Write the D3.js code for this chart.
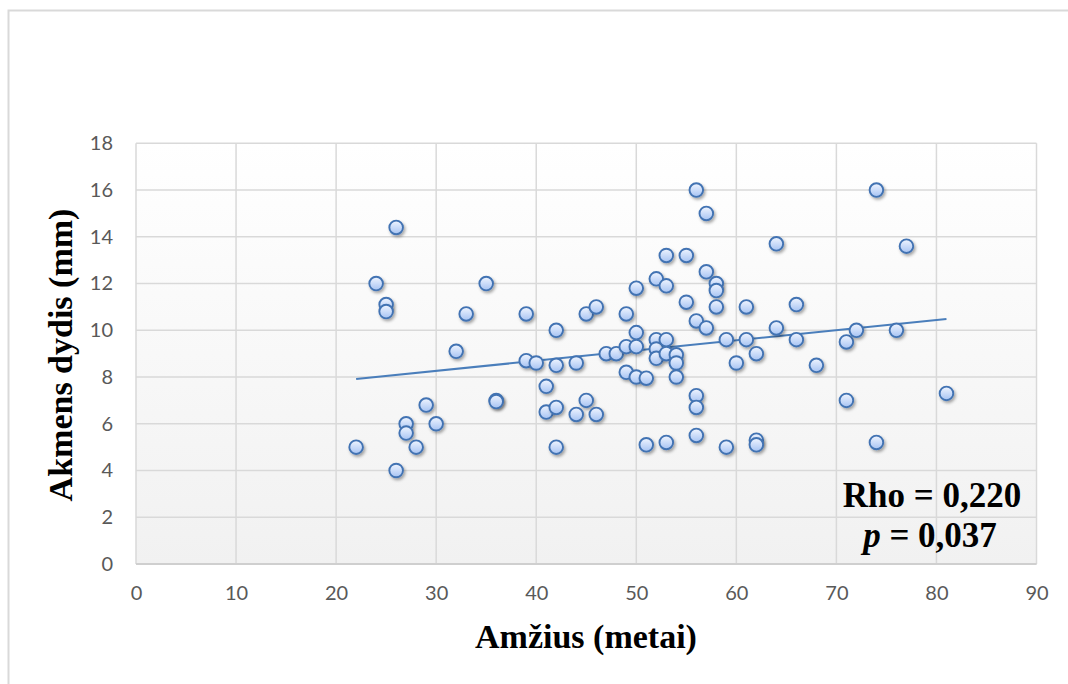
<!DOCTYPE html>
<html>
<head>
<meta charset="utf-8">
<script src="https://cdn.jsdelivr.net/npm/d3@7"></script>
<style>
  body { margin: 0; background: #ffffff; }
  svg { display: block; }
</style>
</head>
<body>
<svg id="chart" width="1068" height="684"></svg>
<script>
// Patient age (years) and stone size (mm)
const ages = [22, 24, 25, 25, 26, 26, 27, 27, 28, 29, 30, 32, 33, 35, 36, 36,
  39, 39, 40, 41, 41, 42, 42, 42, 42, 44, 44, 45, 45, 46, 46, 47, 48,
  49, 49, 49, 50, 50, 50, 50, 51, 51, 52, 52, 52, 52, 53, 53, 53, 53, 53,
  54, 54, 54, 55, 55, 56, 56, 56, 56, 56, 57, 57, 57, 58, 58, 58, 59, 59,
  60, 61, 61, 62, 62, 62, 64, 64, 66, 66, 68, 71, 71, 72, 74, 74, 76, 77, 81];
const sizes = [5.0, 12.0, 11.1, 10.8, 14.4, 4.0, 6.0, 5.6, 5.0, 6.8, 6.0, 9.1, 10.7, 12.0, 7.0, 6.95,
  10.7, 8.7, 8.6, 7.6, 6.5, 10.0, 8.5, 6.7, 5.0, 8.6, 6.4, 10.7, 7.0, 11.0, 6.4, 9.0, 9.0,
  10.7, 9.3, 8.2, 11.8, 9.9, 9.3, 8.0, 7.95, 5.1, 12.2, 9.6, 9.2, 8.8, 13.2, 11.9, 9.6, 9.0, 5.2,
  8.95, 8.6, 8.0, 13.2, 11.2, 16.0, 10.4, 7.2, 6.7, 5.5, 15.0, 12.5, 10.1, 12.0, 11.7, 11.0, 9.6, 5.0,
  8.6, 11.0, 9.6, 9.0, 5.3, 5.1, 13.7, 10.1, 11.1, 9.6, 8.5, 9.5, 7.0, 10.0, 16.0, 5.2, 10.0, 13.6, 7.3];

const xTicks = [0, 10, 20, 30, 40, 50, 60, 70, 80, 90];
const yTicks = [0, 2, 4, 6, 8, 10, 12, 14, 16, 18];
const xTitle = "Amžius (metai)";
const yTitle = "Akmens dydis (mm)";
const statRho = "Rho = 0,220";
const statP = "0,037";

const svg = d3.select("#chart");
const plot = { left: 136, right: 1036.5, top: 143.3, bottom: 564 };

const x = d3.scaleLinear().domain([0, 90]).range([plot.left, plot.right]);
const y = d3.scaleLinear().domain([0, 18]).range([plot.bottom, plot.top]);

const defs = svg.append("defs");
const bg = defs.append("linearGradient").attr("id", "plotBg")
  .attr("x1", 0).attr("y1", 0).attr("x2", 0).attr("y2", 1);
bg.append("stop").attr("offset", "0%").attr("stop-color", "#ffffff");
bg.append("stop").attr("offset", "100%").attr("stop-color", "#f1f1f1");

const mk = defs.append("linearGradient").attr("id", "markerFill")
  .attr("x1", 0).attr("y1", 0).attr("x2", 0).attr("y2", 1);
mk.append("stop").attr("offset", "0%").attr("stop-color", "#f0f5ff");
mk.append("stop").attr("offset", "100%").attr("stop-color", "#a6c3f3");

const sh = defs.append("filter").attr("id", "markerShadow")
  .attr("x", "-50%").attr("y", "-50%").attr("width", "200%").attr("height", "200%");
sh.append("feDropShadow").attr("dx", 1.5).attr("dy", 2).attr("stdDeviation", 1.4)
  .attr("flood-color", "#000").attr("flood-opacity", 0.35);

// Outer chart frame
svg.append("rect").attr("x", 8.5).attr("y", 10.5).attr("width", 1200).attr("height", 800)
  .attr("fill", "#ffffff").attr("stroke", "#d9d9d9").attr("stroke-width", 2);

// Plot area
svg.append("rect")
  .attr("x", plot.left).attr("y", plot.top)
  .attr("width", plot.right - plot.left).attr("height", plot.bottom - plot.top)
  .attr("fill", "url(#plotBg)");

// Gridlines
const grid = svg.append("g").attr("stroke", "#d9d9d9").attr("stroke-width", 1.5);
grid.selectAll("line.h").data(yTicks).join("line").attr("class", "h")
  .attr("x1", plot.left).attr("x2", plot.right)
  .attr("y1", d => y(d)).attr("y2", d => y(d));
grid.selectAll("line.v").data(xTicks).join("line").attr("class", "v")
  .attr("y1", plot.top).attr("y2", plot.bottom)
  .attr("x1", d => x(d)).attr("x2", d => x(d));
svg.append("line").attr("x1", plot.left).attr("x2", plot.right)
  .attr("y1", plot.bottom).attr("y2", plot.bottom)
  .attr("stroke", "#cfcfcf").attr("stroke-width", 2);

// Axes (labels only)
const tickFont = "Lato, 'Open Sans', sans-serif";
const xAxis = svg.append("g").attr("transform", `translate(0,${plot.bottom})`)
  .call(d3.axisBottom(x).tickValues(xTicks).tickSize(0).tickPadding(22));
const yAxis = svg.append("g").attr("transform", `translate(${plot.left},0)`)
  .call(d3.axisLeft(y).tickValues(yTicks).tickSize(0).tickPadding(23));
[xAxis, yAxis].forEach(a => {
  a.select(".domain").remove();
  a.selectAll("text").attr("fill", "#595959").style("font-family", tickFont).style("font-size", "20px");
});

// Linear trendline (least squares)
const n = ages.length;
const mx = d3.mean(ages), my = d3.mean(sizes);
let sxy = 0, sxx = 0;
for (let i = 0; i < n; i++) { sxy += (ages[i] - mx) * (sizes[i] - my); sxx += (ages[i] - mx) ** 2; }
const slope = sxy / sxx, intercept = my - slope * mx;
const xr = d3.extent(ages);
svg.append("path")
  .datum(xr.map(v => [v, intercept + slope * v]))
  .attr("d", d3.line().x(d => x(d[0])).y(d => y(d[1])))
  .attr("fill", "none").attr("stroke", "#4a7ebb").attr("stroke-width", 2);

// Points
svg.append("g").selectAll("circle").data(ages.map((a, i) => [a, sizes[i]])).join("circle")
  .attr("cx", d => x(d[0])).attr("cy", d => y(d[1])).attr("r", 6.8)
  .attr("fill", "url(#markerFill)").attr("stroke", "#4273b3").attr("stroke-width", 1.9)
  .attr("filter", "url(#markerShadow)");

// Axis titles
const serif = "'Liberation Serif', 'Times New Roman', serif";
svg.append("text").attr("x", 586).attr("y", 648).attr("text-anchor", "middle")
  .style("font-family", serif).style("font-weight", "bold").style("font-size", "34px")
  .attr("fill", "#000").text(xTitle);
svg.append("text").attr("transform", "translate(72,355) rotate(-90)").attr("text-anchor", "middle")
  .style("font-family", serif).style("font-weight", "bold").style("font-size", "34px")
  .attr("fill", "#000").text(yTitle);

// Correlation statistics
svg.append("text").attr("x", 932).attr("y", 507).attr("text-anchor", "middle")
  .style("font-family", serif).style("font-weight", "bold").style("font-size", "35px")
  .attr("fill", "#000").text(statRho);
const pt = svg.append("text").attr("x", 930).attr("y", 547).attr("text-anchor", "middle")
  .style("font-family", serif).style("font-weight", "bold").style("font-size", "35px")
  .attr("fill", "#000");
pt.append("tspan").style("font-style", "italic").text("p");
pt.append("tspan").text(" = " + statP);
</script>
</body>
</html>
